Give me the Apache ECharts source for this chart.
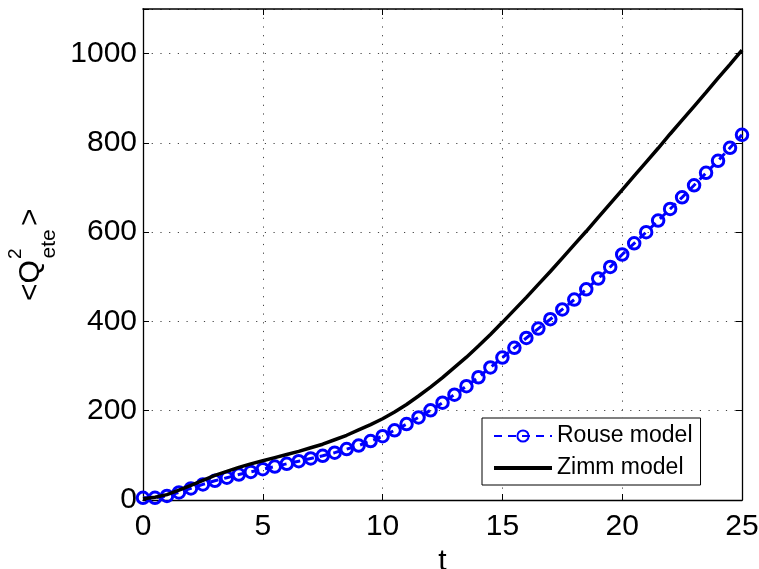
<!DOCTYPE html>
<html>
<head>
<meta charset="utf-8">
<script src="https://cdn.jsdelivr.net/npm/echarts@6/dist/echarts.min.js"></script>
<style>
  html, body { margin: 0; padding: 0; background: #fff; }
  #chart { width: 759px; height: 569px; }
</style>
</head>
<body>
<div id="chart"></div>
<script>
// time samples
var tValues = [0, 0.5, 1, 1.5, 2, 2.5, 3, 3.5, 4, 4.5, 5, 5.5, 6, 6.5, 7, 7.5, 8, 8.5, 9, 9.5,
  10, 10.5, 11, 11.5, 12, 12.5, 13, 13.5, 14, 14.5, 15, 15.5, 16, 16.5, 17, 17.5, 18, 18.5, 19, 19.5,
  20, 20.5, 21, 21.5, 22, 22.5, 23, 23.5, 24, 24.5, 25];

// mean squared end-to-end distance, Rouse model
var rouseValues = [5, 5, 9, 17, 26, 35, 43, 50, 57, 63, 69, 75, 81, 87, 93, 99, 106, 114, 122, 132,
  143, 156, 170, 185, 201, 218, 236, 255, 275, 297, 319, 341, 363, 384, 405, 427, 449, 472, 496, 522,
  550, 575, 600, 626, 652, 678, 705, 733, 760, 789, 818];

// mean squared end-to-end distance, Zimm model
var zimmValues = [3, 6, 12, 22, 33, 44, 55, 64, 73, 81, 88, 95, 102, 109, 117, 125, 135, 145, 157, 169,
  182, 197, 214, 233, 253, 274, 297, 320, 345, 371, 398, 426, 454, 483, 512, 542, 572, 602, 633, 664,
  695, 726, 757, 788, 820, 851, 882, 913, 945, 976, 1008];

var seriesNames = ['Rouse model', 'Zimm model'];
var xTicks = [0, 25, 5];      // min, max, step
var yTicks = [0, 1100, 200];  // min, max, step

function pairs(xs, ys) {
  return xs.map(function (x, i) { return [x, ys[i]]; });
}

var FONT = 'Liberation Sans, Arial, sans-serif';
var gridLine = { show: true, lineStyle: { color: '#444', width: 1, type: [1.2, 7.5] } };

var chart = echarts.init(document.getElementById('chart'), null, { renderer: 'canvas' });

function hideMax(max) {
  return function (v) { return v >= max ? '' : String(v); };
}

var option = {
  backgroundColor: '#fff',
  animation: false,
  grid: { left: 143, right: 17, top: 9, bottom: 69, containLabel: false, outerBoundsMode: 'none' },
  xAxis: [{
    type: 'value', min: xTicks[0], max: xTicks[1], interval: xTicks[2],
    position: 'bottom',
    name: 't', nameLocation: 'middle', nameGap: 44,
    nameTextStyle: { fontFamily: FONT, fontSize: 30, color: '#000' },
    axisLine: { show: true, onZero: false, lineStyle: { color: '#000', width: 1.3 } },
    axisTick: { show: true, inside: true, length: 6, lineStyle: { color: '#000', width: 1 } },
    axisLabel: { fontFamily: FONT, fontSize: 30, color: '#000', margin: 12 },
    splitLine: gridLine
  }, {
    type: 'value', min: xTicks[0], max: xTicks[1], interval: xTicks[2],
    position: 'top',
    axisLine: { show: true, onZero: false, lineStyle: { color: '#000', width: 1.6 } },
    axisTick: { show: true, inside: true, length: 6, lineStyle: { color: '#000', width: 1 } },
    axisLabel: { show: false },
    splitLine: { show: false }
  }],
  yAxis: [{
    type: 'value', min: yTicks[0], max: yTicks[1], interval: yTicks[2],
    position: 'left',
    axisLine: { show: true, onZero: false, lineStyle: { color: '#000', width: 1.3 } },
    axisTick: { show: true, inside: true, length: 6, lineStyle: { color: '#000', width: 1 } },
    axisLabel: { fontFamily: FONT, fontSize: 30, color: '#000', margin: 6, formatter: hideMax(yTicks[1]) },
    splitLine: gridLine
  }, {
    type: 'value', min: yTicks[0], max: yTicks[1], interval: yTicks[2],
    position: 'right',
    axisLine: { show: true, onZero: false, lineStyle: { color: '#000', width: 1.3 } },
    axisTick: { show: true, inside: true, length: 6, lineStyle: { color: '#000', width: 1 } },
    axisLabel: { show: false },
    splitLine: { show: false }
  }],
  legend: {
    orient: 'vertical',
    left: 482, top: 418,
    padding: [6, 8, 5, 11],
    itemGap: 8,
    itemWidth: 58,
    itemHeight: 14,
    backgroundColor: '#fff',
    borderColor: '#000',
    borderWidth: 1,
    borderRadius: 0,
    selectedMode: false,
    textStyle: { fontFamily: FONT, fontSize: 23, color: '#000', lineHeight: 24 },
    data: [
      { name: seriesNames[0] },
      { name: seriesNames[1], icon: 'path://M0,0L58,0L58,4L0,4Z', itemStyle: { color: '#000' } }
    ]
  },
  series: [{
    name: seriesNames[0],
    type: 'line',
    data: pairs(tValues, rouseValues),
    symbol: 'circle',
    symbolSize: 11.5,
    showAllSymbol: true,
    lineStyle: { color: '#0000ff', width: 3, type: [8, 6] },
    itemStyle: { color: 'rgba(255,255,255,0)', borderColor: '#0000ff', borderWidth: 3 },
    z: 2
  }, {
    name: seriesNames[1],
    type: 'line',
    data: pairs(tValues, zimmValues),
    symbol: 'none',
    showSymbol: false,
    lineStyle: { color: '#000', width: 3.5 },
    itemStyle: { color: '#000' },
    z: 3
  }],
  graphic: [{
    type: 'group',
    x: 41, y: 300,
    rotation: Math.PI / 2,
    children: [
      { type: 'text', x: -1, y: -10.5, style: { text: '<', fontFamily: FONT, fontSize: 30, fill: '#000', align: 'left', verticalAlign: 'middle' } },
      { type: 'text', x: 16.5, y: -10.5, style: { text: 'Q', fontFamily: FONT, fontSize: 30, fill: '#000', align: 'left', verticalAlign: 'middle' } },
      { type: 'text', x: 41, y: -25, style: { text: '2', fontFamily: FONT, fontSize: 19, fill: '#000', align: 'left', verticalAlign: 'middle' } },
      { type: 'text', x: 41.5, y: 8, style: { text: 'ete', fontFamily: FONT, fontSize: 21, fill: '#000', align: 'left', verticalAlign: 'middle' } },
      { type: 'text', x: 74, y: -10.5, style: { text: '>', fontFamily: FONT, fontSize: 30, fill: '#000', align: 'left', verticalAlign: 'middle' } }
    ]
  }]
};

chart.setOption(option);
</script>
</body>
</html>
